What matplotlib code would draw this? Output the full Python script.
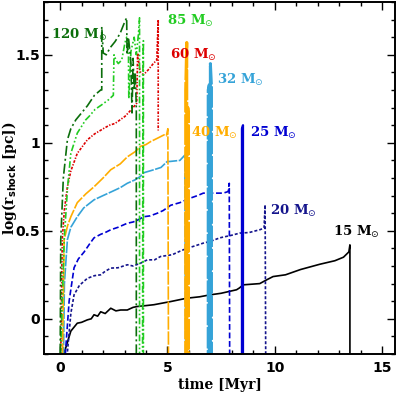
import matplotlib
matplotlib.use("Agg")
import matplotlib.pyplot as plt
from matplotlib.ticker import MultipleLocator

# ---------------- data (time [Myr], log r_shock [pc]) ----------------
t15 = [0.14, 0.2, 0.5, 0.8, 1.0, 1.27, 1.45, 1.58, 1.75, 1.89, 2.1, 2.36, 2.6, 2.82, 3.13, 3.4, 3.6, 4.0,
       4.37, 5.15, 5.9, 6.5, 6.98, 7.5, 8.22, 8.35, 8.53, 9.3, 9.6, 9.92, 10.5, 11.2, 12.1, 12.8, 13.2, 13.45,
       13.5, 13.5]
y15 = [-0.3, -0.19, -0.07, -0.025, -0.02, -0.006, 0.0, 0.023, 0.015, 0.04, 0.03, 0.06, 0.045, 0.05, 0.05,
       0.065, 0.07, 0.075, 0.08, 0.098, 0.117, 0.125, 0.136, 0.145, 0.165, 0.175, 0.193, 0.2, 0.22, 0.24,
       0.25, 0.28, 0.31, 0.33, 0.35, 0.38, 0.42, -0.3]

t20 = [0.3, 0.34, 0.5, 0.65, 0.9, 1.27, 1.6, 1.89, 2.1, 2.36, 2.7, 3.13, 3.4, 3.75, 4.06, 4.4, 4.68,
       5.22, 5.6, 5.9, 6.3, 6.67, 7.0, 7.44, 8.0, 8.37, 8.8, 9.3, 9.5, 9.55, 9.58]
y20 = [-0.3, -0.19, 0.03, 0.136, 0.19, 0.23, 0.245, 0.25, 0.27, 0.288, 0.29, 0.307, 0.3, 0.316, 0.335,
       0.335, 0.354, 0.364, 0.385, 0.40, 0.415, 0.43, 0.44, 0.46, 0.475, 0.487, 0.49, 0.506, 0.515, 0.648,
       -0.3]

t25 = [0.2, 0.25, 0.42, 0.65, 0.85, 1.12, 1.4, 1.58, 1.89, 2.1, 2.36, 2.7, 3.13, 3.4, 3.6, 3.9, 4.2, 4.53,
       4.8, 5.15, 5.58, 6.05, 6.4, 6.67, 7.0, 7.6, 7.83, 7.88, 7.9]
y25 = [-0.3, -0.19, 0.1, 0.29, 0.34, 0.38, 0.43, 0.46, 0.48, 0.49, 0.506, 0.52, 0.543, 0.55, 0.56, 0.58,
       0.585, 0.60, 0.615, 0.645, 0.66, 0.685, 0.70, 0.714, 0.714, 0.714, 0.723, 0.77, -0.3]
t25b = [8.47, 8.47, 8.52, 8.52]
y25b = [-0.3, 1.08, 1.10, -0.3]

t32 = [0.15, 0.2, 0.34, 0.5, 0.8, 1.1, 1.58, 2.0, 2.36, 2.8, 3.13, 3.5, 3.75, 3.9, 4.37, 4.7, 4.99, 5.12,
       5.58, 5.81, 5.85]
y32 = [-0.3, 0.2, 0.45, 0.52, 0.58, 0.63, 0.676, 0.70, 0.72, 0.745, 0.77, 0.79, 0.81, 0.83, 0.847, 0.86,
       0.894, 0.894, 0.90, 0.93, -0.3]
t32b = [6.90, 6.90, 6.95, 6.95, 7.00, 7.00, 7.05, 7.05]
y32b = [-0.3, 1.30, 1.33, -0.3, -0.3, 1.45, 1.32, -0.3]

t40 = [0.1, 0.19, 0.35, 0.5, 0.8, 1.2, 1.58, 2.0, 2.36, 2.8, 3.13, 3.5, 3.75, 4.0, 4.22, 4.6, 4.84,
       4.95, 5.02, 5.05]
y40 = [-0.3, 0.45, 0.53, 0.58, 0.66, 0.71, 0.75, 0.80, 0.847, 0.88, 0.92, 0.95, 0.98, 0.99, 1.007,
       1.03, 1.045, 1.04, 1.08, -0.3]
t40b = [5.85, 5.85, 5.90, 5.90, 5.95, 5.98, 5.98]
y40b = [-0.3, 1.30, 1.57, -0.3, 1.20, 1.15, -0.3]

t60 = [0.02, 0.1, 0.2, 0.34, 0.5, 0.8, 1.27, 1.6, 2.05, 2.3, 2.56, 3.02, 3.33, 3.57, 3.61, 3.72, 3.88,
       4.11, 4.34, 4.5, 4.57, 4.57]
y60 = [-0.3, 0.45, 0.62, 0.75, 0.84, 0.94, 1.017, 1.05, 1.083, 1.1, 1.11, 1.15, 1.19, 1.225, 1.51,
       1.405, 1.386, 1.415, 1.45, 1.47, 1.70, 1.07]

t85 = [0.0, 0.19, 0.35, 0.5, 0.8, 1.19, 1.35, 1.63, 1.94, 2.25, 2.48, 2.51, 2.6, 2.71, 2.87, 3.02, 3.1,
       3.18, 3.2, 3.3, 3.45, 3.55, 3.65, 3.70, 3.70, 3.84, 3.86, 3.88, 3.88]
y85 = [-0.3, 0.45, 0.75, 0.94, 1.055, 1.13, 1.15, 1.19, 1.216, 1.244, 1.27, 1.5, 1.47, 1.45, 1.47,
       1.567, 1.6, 1.58, 1.25, 1.52, 1.6, 1.5, 1.62, 1.71, -0.3, -0.3, 1.5, 1.58, -0.3]

t120 = [0.0, 0.03, 0.15, 0.34, 0.5, 0.73, 1.0, 1.27, 1.6, 1.89, 1.94, 1.94, 2.01, 2.15, 2.33, 2.56,
        2.79, 3.02, 3.1, 3.12, 3.18, 3.25, 3.3, 3.35, 3.4, 3.45, 3.5, 3.55, 3.55]
y120 = [-0.3, 0.45, 0.8, 1.017, 1.08, 1.13, 1.17, 1.21, 1.27, 1.30, 1.30, 1.66, 1.51, 1.50, 1.54,
        1.575, 1.62, 1.69, 1.71, 1.5, 1.6, 1.52, 1.45, 1.17, 1.48, 1.3, 1.4, 1.2, -0.3]

labels = ['15', '20', '25', '32', '40', '60', '85', '120']
label_t = [12.7, 9.77, 8.84, 7.29, 6.12, 5.12, 4.96, -0.43]
label_y = [0.496, 0.61, 1.055, 1.356, 1.055, 1.50, 1.69, 1.61]

# ---------------- styling ----------------
colors = {'15': 'black', '20': '#14148c', '25': '#0000d2', '32': '#35a3d8',
          '40': '#ffad00', '60': '#dd0000', '85': '#22cc22', '120': '#0b6e0b'}
dashes = {'15': None, '20': (1.8, 1.2), '25': (3.5, 1.6), '32': (7, 0.9),
          '40': (8, 1.0), '60': (1.6, 0.9, 0.8, 0.9), '85': (4, 1.4, 1, 1.4, 1, 1.4),
          '120': (6, 1.8, 1.2, 1.8)}

fig = plt.figure(figsize=(3.99, 3.94), dpi=100)
ax = fig.add_axes([44/399, 1-354/394, 351/399, 352/394])

series = [('15', t15, y15), ('20', t20, y20), ('25', t25, y25), ('32', t32, y32),
          ('40', t40, y40), ('60', t60, y60), ('85', t85, y85), ('120', t120, y120)]
for key, t, y in series:
    ln, = ax.plot(t, y, color=colors[key], lw=1.2)
    if dashes[key] is not None:
        ln.set_dashes(dashes[key])

# thick final oscillation bands
b1, = ax.plot(t40b, y40b, color=colors['40'], lw=2.2)
b1.set_dashes((10, 0.6))
b2, = ax.plot(t32b, y32b, color=colors['32'], lw=2.2)
b2.set_dashes((7, 0.6))
ax.plot(t25b, y25b, color=colors['25'], lw=1.6)

tfont = dict(family='DejaVu Serif', fontweight='bold', fontsize=9.5)
for lab, tx, ty in zip(labels, label_t, label_y):
    ax.text(tx, ty, lab + r' M$_{\odot}$', color=colors[lab], ha='left', va='center', **tfont)

ax.set_xlim(-0.75, 15.6)
ax.set_ylim(-0.2, 1.8)
ax.xaxis.set_minor_locator(MultipleLocator(1))
ax.yaxis.set_minor_locator(MultipleLocator(0.1))
ax.set_xticks([0, 5, 10, 15])
ax.set_xticklabels(['0', '5', '10', '15'])
ax.set_yticks([0, 0.5, 1, 1.5])
ax.set_yticklabels(['0', '0.5', '1', '1.5'])
ax.tick_params(which='both', direction='in', top=True, right=True, width=1.0)
ax.tick_params(which='major', length=5.5, labelsize=10)
ax.tick_params(axis='y', which='major', pad=3)
ax.tick_params(axis='x', which='major', pad=5)
ax.tick_params(which='minor', length=3)
for lbl in ax.get_xticklabels() + ax.get_yticklabels():
    lbl.set_fontweight('bold')
    lbl.set_family('DejaVu Sans')
for s in ax.spines.values():
    s.set_linewidth(1.4)

ax.set_xlabel('time [Myr]', fontsize=10, fontweight='bold', family='DejaVu Serif', labelpad=2)
ax.set_ylabel(r'log(r$_{\mathbf{shock}}$ [pc])', fontsize=10, fontweight='bold',
              family='DejaVu Serif')
ax.yaxis.set_label_coords(-0.072, 0.5)

fig.savefig('out.png', dpi=100)
